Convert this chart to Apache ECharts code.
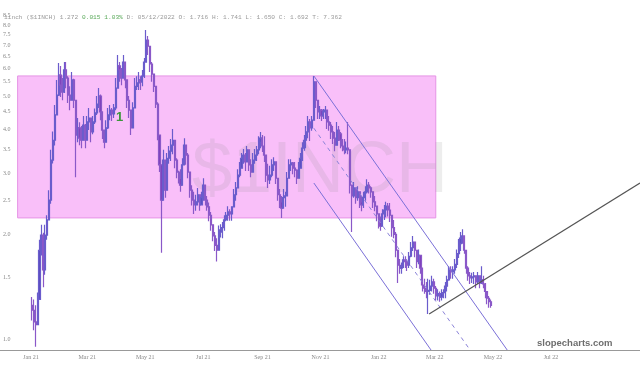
<!DOCTYPE html>
<html>
<head>
<meta charset="utf-8">
<script src="https://cdn.jsdelivr.net/npm/echarts@6.0.0/dist/echarts.min.js"></script>
<style>
  html, body { margin: 0; padding: 0; background: #fff; }
  #chart { width: 640px; height: 365px; }
</style>
</head>
<body>
<div id="chart"></div>
<script>
// days counted from 1 Jan 2021, one candle every two days
const firstDay = 1
const dayStep = 2

// [open, close, low, high]
const candles = [
  [1.25,1.21,1.13,1.32],[1.21,1.12,1.06,1.30],[1.12,1.10,0.95,1.25],[1.10,1.30,1.10,1.36],
  [1.30,1.80,1.30,1.93],[1.80,1.99,1.74,2.13],[1.99,1.58,1.41,2.02],[1.58,1.99,1.53,2.13],
  [1.99,2.20,1.93,2.27],[2.20,2.51,2.20,2.68],[2.51,3.27,2.45,3.50],[3.27,3.73,3.20,3.95],
  [3.73,4.41,3.60,4.71],[4.41,5.03,4.40,5.56],[5.03,5.74,5.00,6.22],[5.74,5.37,4.97,6.10],
  [5.37,5.13,4.86,5.63],[5.13,5.94,5.10,6.26],[5.94,5.63,5.26,6.26],[5.63,5.03,4.77,5.70],
  [5.03,4.86,4.55,5.33],[4.86,5.56,4.86,5.86],[5.56,4.86,4.62,5.60],[4.86,3.86,2.92,4.86],
  [3.86,4.05,3.68,4.32],[4.05,3.78,3.61,4.20],[3.78,3.73,3.54,4.10],[3.73,4.12,3.73,4.38],
  [4.12,3.73,3.54,4.15],[3.73,4.21,3.73,4.38],[4.21,4.32,3.99,4.62],[4.32,3.94,3.68,4.32],
  [3.94,4.21,3.88,4.38],[4.21,4.47,4.15,4.60],[4.47,4.74,4.41,5.00],[4.74,5.00,4.62,5.27],
  [5.00,4.50,4.26,5.05],[4.50,3.99,3.76,4.50],[3.99,3.68,3.54,3.99],[3.68,4.05,3.68,4.26],
  [4.05,4.41,4.02,4.62],[4.41,4.55,4.26,4.71],[4.55,4.44,4.24,4.62],[4.44,4.62,4.32,4.74],
  [4.62,5.27,4.55,5.63],[5.27,6.10,5.27,6.56],[6.10,5.94,5.49,6.26],[5.94,5.63,5.37,6.02],
  [5.63,6.26,5.63,6.56],[6.26,5.56,5.26,6.26],[5.56,4.86,4.62,5.56],[4.86,4.55,4.32,5.00],
  [4.55,4.05,3.86,4.55],[4.05,4.62,4.05,4.80],[4.62,5.33,4.62,5.63],[5.33,5.45,5.20,5.70],
  [5.45,5.56,5.20,5.86],[5.56,5.49,5.20,5.70],[5.49,5.70,5.33,5.94],[5.70,6.26,5.63,6.43],
  [6.26,7.24,6.26,7.74],[7.24,6.95,6.56,7.44],[6.95,6.18,5.86,6.95],[6.18,5.78,5.49,6.26],
  [5.78,5.33,5.13,5.78],[5.33,4.74,4.62,5.33],[4.74,3.86,3.73,4.80],[3.86,3.17,3.02,3.86],
  [3.17,2.51,1.77,3.17],[2.51,3.27,2.51,3.50],[3.27,2.68,2.55,3.27],[2.68,3.31,2.68,3.43],
  [3.31,3.47,3.19,3.59],[3.47,3.61,3.25,3.76],[3.61,3.73,3.40,4.02],[3.73,3.27,3.10,3.73],
  [3.27,3.02,2.90,3.31],[3.02,2.90,2.80,3.05],[2.90,2.77,2.65,3.08],[2.77,3.17,2.77,3.31],
  [3.17,3.61,3.17,3.78],[3.61,3.38,3.17,3.61],[3.38,3.02,2.90,3.43],[3.02,2.68,2.55,3.02],
  [2.68,2.51,2.42,2.77],[2.51,2.43,2.29,2.65],[2.43,2.48,2.34,2.60],[2.48,2.60,2.42,2.72],
  [2.60,2.43,2.34,2.60],[2.43,2.55,2.42,2.65],[2.55,2.77,2.50,2.90],[2.77,2.51,2.42,2.77],
  [2.51,2.40,2.34,2.58],[2.40,2.27,2.18,2.47],[2.27,2.13,2.05,2.32],[2.13,1.98,1.91,2.13],
  [1.98,1.86,1.79,2.03],[1.86,1.80,1.67,1.95],[1.80,2.03,1.80,2.12],[2.03,2.06,1.96,2.14],
  [2.06,2.09,1.95,2.17],[2.09,2.20,2.05,2.27],[2.20,2.27,2.18,2.32],[2.27,2.32,2.19,2.41],
  [2.32,2.29,2.19,2.36],[2.29,2.40,2.19,2.41],[2.40,2.60,2.40,2.70],[2.60,2.72,2.50,2.83],
  [2.72,2.96,2.72,3.08],[2.96,3.10,2.92,3.23],[3.10,3.31,3.10,3.43],[3.31,3.38,3.19,3.52],
  [3.38,3.23,3.04,3.43],[3.23,3.50,3.23,3.59],[3.50,3.17,3.04,3.50],[3.17,3.02,2.92,3.29],
  [3.02,3.27,3.02,3.43],[3.27,3.38,3.19,3.52],[3.38,3.50,3.25,3.59],[3.50,3.68,3.40,3.83],
  [3.68,3.78,3.54,3.94],[3.78,3.59,3.45,3.86],[3.59,3.38,3.23,3.83],[3.38,2.96,2.83,3.38],
  [2.96,2.87,2.72,3.19],[2.87,2.96,2.79,3.15],[2.96,3.17,2.92,3.29],[3.17,3.23,3.04,3.33],
  [3.23,2.90,2.79,3.23],[2.90,2.60,2.50,2.90],[2.60,2.48,2.38,2.70],[2.48,2.38,2.23,2.58],
  [2.38,2.55,2.38,2.70],[2.55,2.58,2.40,2.65],[2.58,2.90,2.58,3.02],[2.90,3.17,2.90,3.29],
  [3.17,3.21,3.04,3.29],[3.21,3.10,2.98,3.23],[3.10,3.06,2.92,3.23],[3.06,2.90,2.79,3.08],
  [2.90,3.10,2.90,3.23],[3.10,3.31,3.10,3.43],[3.31,3.54,3.25,3.68],[3.54,3.73,3.48,3.86],
  [3.73,3.94,3.54,4.10],[3.94,4.21,3.78,4.38],[4.21,4.05,3.71,4.29],[4.05,4.26,3.97,4.38],
  [4.26,5.49,4.26,5.71],[5.49,4.86,4.62,5.49],[4.86,4.50,4.29,4.86],[4.50,4.55,4.29,4.68],
  [4.55,4.38,4.24,4.59],[4.38,4.50,4.29,4.59],[4.50,4.55,4.29,4.68],[4.55,4.21,4.02,4.55],
  [4.21,4.12,3.97,4.38],[4.12,3.94,3.76,4.21],[3.94,3.78,3.64,4.10],[3.78,3.61,3.47,3.94],
  [3.61,3.99,3.61,4.21],[3.99,3.89,3.71,4.10],[3.89,3.73,3.54,3.94],[3.73,3.59,3.47,3.76],
  [3.59,3.50,3.40,3.76],[3.50,3.54,3.42,3.70],[3.54,3.50,3.40,4.21],[3.50,2.77,2.62,3.50],
  [2.77,2.58,2.03,2.77],[2.58,2.72,2.55,2.83],[2.72,2.55,2.45,2.72],[2.55,2.65,2.50,2.75],
  [2.65,2.48,2.38,2.65],[2.48,2.43,2.33,2.58],[2.43,2.55,2.38,2.65],[2.55,2.65,2.50,2.75],
  [2.65,2.77,2.62,2.88],[2.77,2.72,2.62,2.83],[2.72,2.65,2.55,2.75],[2.65,2.48,2.38,2.65],
  [2.48,2.41,2.33,2.58],[2.41,2.29,2.18,2.41],[2.29,2.17,2.08,2.30],[2.17,2.11,2.05,2.25],
  [2.11,2.29,2.11,2.36],[2.29,2.35,2.20,2.43],[2.35,2.41,2.24,2.48],[2.41,2.35,2.25,2.46],
  [2.35,2.27,2.17,2.46],[2.27,2.09,1.97,2.27],[2.09,2.00,1.95,2.20],[2.00,1.80,1.72,2.03],
  [1.80,1.63,1.45,1.81],[1.63,1.60,1.54,1.70],[1.60,1.62,1.54,1.66],[1.62,1.69,1.60,1.73],
  [1.69,1.67,1.60,1.73],[1.67,1.63,1.57,1.70],[1.63,1.73,1.60,1.78],[1.73,1.83,1.72,1.90],
  [1.83,1.90,1.79,1.98],[1.90,1.80,1.72,1.90],[1.80,1.67,1.60,1.80],[1.67,1.74,1.64,1.81],
  [1.74,1.60,1.54,1.74],[1.60,1.43,1.37,1.60],[1.43,1.40,1.35,1.49],[1.40,1.37,1.31,1.46],
  [1.37,1.38,1.18,1.49],[1.38,1.42,1.34,1.48],[1.42,1.46,1.37,1.52],[1.46,1.40,1.35,1.49],
  [1.40,1.33,1.29,1.42],[1.33,1.35,1.29,1.39],[1.35,1.32,1.28,1.37],[1.32,1.35,1.29,1.39],
  [1.35,1.36,1.31,1.39],[1.36,1.42,1.31,1.46],[1.42,1.48,1.37,1.52],[1.48,1.58,1.47,1.62],
  [1.58,1.56,1.49,1.62],[1.56,1.58,1.49,1.62],[1.58,1.64,1.54,1.70],[1.64,1.76,1.60,1.81],
  [1.76,1.88,1.71,1.94],[1.88,1.95,1.79,2.03],[1.95,1.98,1.88,2.07],[1.98,1.80,1.76,1.98],
  [1.80,1.60,1.54,1.80],[1.60,1.52,1.47,1.62],[1.52,1.50,1.44,1.56],[1.50,1.51,1.45,1.55],
  [1.51,1.52,1.44,1.56],[1.52,1.46,1.40,1.52],[1.46,1.52,1.44,1.56],[1.52,1.45,1.40,1.52],
  [1.45,1.48,1.44,1.62],[1.48,1.44,1.40,1.52],[1.44,1.37,1.31,1.45],[1.37,1.31,1.26,1.37],
  [1.31,1.28,1.23,1.33],[1.28,1.25,1.23,1.30]
]

const monthDays = [0, 59, 120, 181, 243, 304, 365, 424, 485, 546]
const monthLabels = ['Jan 21', 'Mar 21', 'May 21', 'Jul 21', 'Sep 21', 'Nov 21', 'Jan 22', 'Mar 22', 'May 22', 'Jul 22']
const priceTicks = [1.0, 1.5, 2.0, 2.5, 3.0, 3.5, 4.0, 4.5, 5.0, 5.5, 6.0, 6.5, 7.0, 7.5, 8.0, 8.5]
const dayRange = [-32.5, 639.4]
const priceRange = [0.93, 9.44]

// annotations: [day, price]
const boxDays = [-14, 425]
const boxPrices = [2.23, 5.71]
const channelTop = [[297, 5.71], [500, 0.93]]
const channelMid = [[297, 4.04], [461, 0.93]]
const channelLow = [[297, 2.81], [420, 0.93]]
const supportLine = [[418, 1.18], [639.4, 2.81]]
const labelOne = [93, 4.35]

const ln = Math.log
const chart = echarts.init(document.getElementById('chart'))

const seriesData = candles.map((c, i) => [firstDay + dayStep * i, ln(c[0]), ln(c[1]), ln(c[2]), ln(c[3])])
const seg = (p, style) => [
  { coord: [p[0][0], ln(p[0][1])], lineStyle: style },
  { coord: [p[1][0], ln(p[1][1])] }
]

const option = {
  animation: false,
  backgroundColor: '#fff',
  grid: { left: 0, right: 0, top: 0, bottom: 15 },
  xAxis: {
    type: 'value',
    min: dayRange[0],
    max: dayRange[1],
    splitLine: { show: false },
    axisTick: { show: false },
    axisLine: { show: true, onZero: false, lineStyle: { color: '#999', width: 1 } },
    axisLabel: {
      customValues: monthDays,
      formatter: (v) => monthLabels[monthDays.indexOf(v)] || '',
      color: '#888',
      fontSize: 6,
      fontFamily: 'Liberation Serif',
      margin: 4
    }
  },
  yAxis: {
    type: 'value',
    min: ln(priceRange[0]),
    max: ln(priceRange[1]),
    splitLine: { show: false },
    axisTick: { show: false },
    axisLine: { show: false },
    axisLabel: {
      inside: true,
      customValues: priceTicks.map(ln),
      formatter: (v) => Math.exp(v).toFixed(1),
      color: '#888',
      fontSize: 6,
      fontFamily: 'Liberation Serif',
      margin: 3
    }
  },
  graphic: [
    {
      type: 'text', left: 'center', top: 136, z: 1, silent: true,
      style: {
        text: '$1INCH', font: '72px "Liberation Sans"', fill: 'rgba(140,140,140,0.16)'
      }
    },
    {
      type: 'text', left: 4, top: 14, z: 10, silent: true,
      style: {
        text: '{a|1inch ($1INCH) 1.272 }{g|0.015 1.03%}{a| D: 05/12/2022 O: 1.716 H: 1.741 L: 1.650 C: 1.692 T: 7.362}',
        rich: {
          a: { fontFamily: 'Liberation Mono', fontSize: 6.2, fill: '#9a9a9a' },
          g: { fontFamily: 'Liberation Mono', fontSize: 6.2, fill: '#5aaa5a' }
        }
      }
    },
    {
      type: 'text', left: 537, top: 338, z: 10, silent: true,
      style: { text: 'slopecharts.com', font: 'bold 9.5px "Liberation Sans"', fill: '#6e6e6e' }
    }
  ],
  series: [
    {
      type: 'line',
      data: [],
      z: 0,
      markArea: {
        silent: true,
        z: 0,
        itemStyle: { color: '#f9bff9', borderColor: '#e694e6', borderWidth: 1 },
        data: [[
          { coord: [boxDays[0], ln(boxPrices[0])] },
          { coord: [boxDays[1], ln(boxPrices[1])] }
        ]]
      }
    },
    {
      type: 'candlestick',
      z: 2,
      barWidth: 1.6,
      encode: { x: 0, y: [1, 2, 3, 4] },
      data: seriesData,
      itemStyle: {
        color: '#5a4fc0',
        color0: '#7e3fba',
        borderColor: '#6a5ccc',
        borderColor0: '#8a58c8',
        borderWidth: 1.2
      },
      markLine: {
        silent: true,
        symbol: 'none',
        z: 5,
        label: { show: false },
        data: [
          seg(channelTop, { color: '#7b70d8', width: 1, type: 'solid' }),
          seg(channelMid, { color: '#8a82d8', width: 1, type: [4, 4] }),
          seg(channelLow, { color: '#7b70d8', width: 1, type: 'solid' }),
          seg(supportLine, { color: '#555', width: 1.2, type: 'solid' })
        ]
      },
      markPoint: {
        silent: true,
        symbol: 'circle',
        symbolSize: 1,
        itemStyle: { color: 'rgba(0,0,0,0)' },
        label: {
          show: true, position: 'inside', formatter: '1',
          color: '#3a963a', fontSize: 13, fontWeight: 'bold', fontFamily: 'Liberation Sans'
        },
        data: [{ coord: [labelOne[0], ln(labelOne[1])] }]
      }
    }
  ]
}

chart.setOption(option)
</script>
</body>
</html>
